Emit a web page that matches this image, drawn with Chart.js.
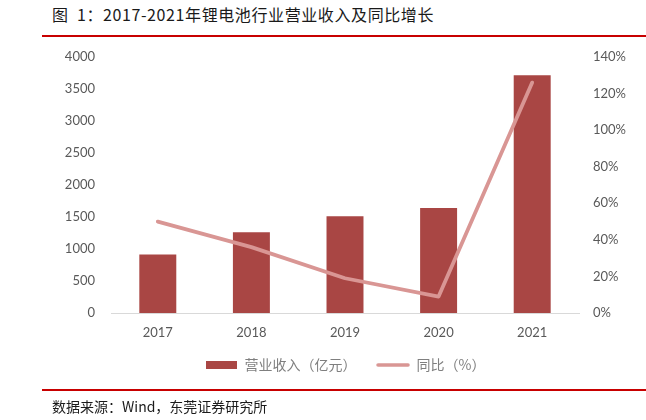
<!DOCTYPE html>
<html>
<head>
<meta charset="utf-8">
<script src="https://cdn.jsdelivr.net/npm/chart.js@4/dist/chart.umd.min.js"></script>
<style>
  html, body { margin: 0; padding: 0; background: #fff; }
  body { width: 646px; height: 420px; position: relative; overflow: hidden; }
  #title {
    position: absolute; left: 52px; top: 2px; letter-spacing: 0.6px;
    font: 16px "Noto Sans CJK SC", sans-serif; color: #1a1a1a; white-space: pre;
  }
  .rule { position: absolute; left: 42px; right: 0; height: 2px; background: #c80000; }
  #source {
    position: absolute; left: 52px; top: 396px;
    font: 14px "Noto Sans CJK SC", sans-serif; color: #1a1a1a; white-space: nowrap;
  }
  #wrap { position: absolute; left: 0; top: 0; width: 646px; height: 420px; }
</style>
</head>
<body>
<div id="title">图  1：2017-2021年锂电池行业营业收入及同比增长</div>
<div class="rule" style="top:35px"></div>
<div id="wrap"><canvas id="combo"></canvas></div>
<div class="rule" style="top:389px"></div>
<div id="source">数据来源：Wind，东莞证券研究所</div>

<script>
const years = ["2017", "2018", "2019", "2020", "2021"];

// 营业收入（亿元）
const revenue = [913, 1263, 1512, 1641, 3715];

// 同比（%）
const yoy = [50, 36, 19, 9, 126];

const barColor = "#a94644";
const lineColor = "#d99694";
const tickColor = "#595959";

// little legend swatches, drawn like the Excel ones
function swatch(w, h, draw) {
  const c = document.createElement("canvas");
  c.width = w;
  c.height = h;
  draw(c.getContext("2d"));
  return c;
}
const barKey = swatch(31, 8, (ctx) => {
  ctx.fillStyle = barColor;
  ctx.fillRect(0, 0, 31, 8);
});
const lineKey = swatch(34, 4, (ctx) => {
  ctx.strokeStyle = lineColor;
  ctx.lineWidth = 3.5;
  ctx.lineCap = "round";
  ctx.beginPath();
  ctx.moveTo(2, 2);
  ctx.lineTo(32, 2);
  ctx.stroke();
});

const tickFont = { family: "Lato, sans-serif", size: 13 };

const combo = new Chart(document.getElementById("combo"), {
  type: "bar",
  data: {
    labels: years,
    datasets: [
      {
        type: "line",
        label: "同比（%）",
        data: yoy,
        yAxisID: "y2",
        borderColor: lineColor,
        backgroundColor: lineColor,
        borderWidth: 3.8,
        borderCapStyle: "round",
        borderJoinStyle: "round",
        pointRadius: 0,
        pointHoverRadius: 0,
        tension: 0,
        pointStyle: lineKey,
        order: 0,
      },
      {
        label: "营业收入（亿元）",
        data: revenue,
        yAxisID: "y",
        backgroundColor: barColor,
        categoryPercentage: 1,
        barPercentage: 0.395,
        pointStyle: barKey,
        order: 1,
      },
    ],
  },
  options: {
    responsive: true,
    maintainAspectRatio: false,
    animation: false,
    layout: {
      padding: { top: 57, bottom: 38, left: 0, right: 0 },
    },
    scales: {
      x: {
        grid: { display: false, drawTicks: false },
        border: { display: true, color: "#d9d9d9", width: 1 },
        ticks: { color: tickColor, font: tickFont, padding: 12 },
        afterFit: (s) => {
          s.height = 25;
        },
      },
      y: {
        position: "left",
        min: 0,
        max: 4000,
        grid: { display: false, drawTicks: false },
        border: { display: false },
        ticks: {
          stepSize: 500,
          color: tickColor,
          font: tickFont,
          padding: 16,
          callback: (value) => String(value),
        },
        afterFit: (s) => {
          s.width = 111;
        },
      },
      y2: {
        position: "right",
        min: 0,
        max: 140,
        grid: { display: false, drawTicks: false },
        border: { display: false },
        ticks: {
          stepSize: 20,
          color: tickColor,
          font: tickFont,
          padding: 14,
          callback: (value) => value + "%",
        },
        afterFit: (s) => {
          s.width = 67;
        },
      },
    },
    plugins: {
      legend: {
        position: "bottom",
        fullSize: false,
        reverse: true,
        labels: {
          usePointStyle: true,
          pointStyleWidth: 33,
          boxHeight: 14,
          padding: 20,
          color: "#7f7f7f",
          font: { family: "'Noto Sans CJK SC', sans-serif", size: 14 },
        },
      },
      tooltip: { enabled: false },
    },
  },
});
</script>
</body>
</html>
